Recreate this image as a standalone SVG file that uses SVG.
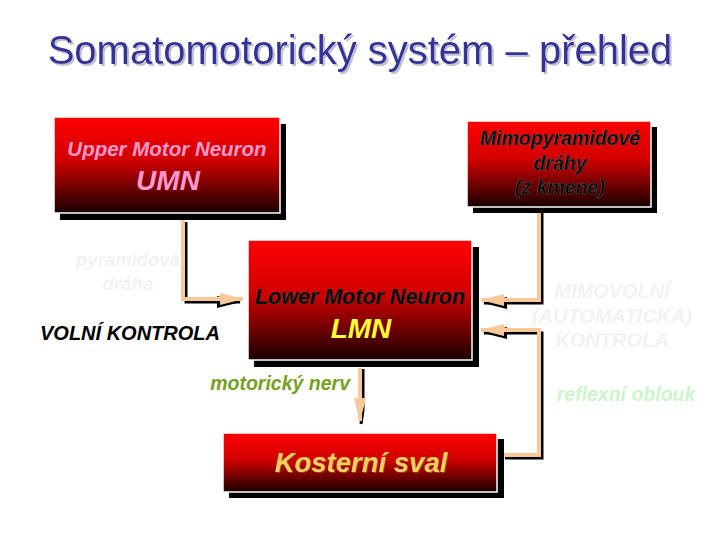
<svg xmlns="http://www.w3.org/2000/svg" width="720" height="540" viewBox="0 0 720 540">
<defs>
<linearGradient id="red" x1="0" y1="0" x2="0" y2="1">
<stop offset="0" stop-color="#ff0000"/>
<stop offset="0.45" stop-color="#d00000"/>
<stop offset="1" stop-color="#180000"/>
</linearGradient>
<filter id="tsh" x="-5%" y="-20%" width="110%" height="150%">
<feDropShadow dx="2" dy="2" stdDeviation="0.6" flood-color="#c0c0d0"/>
</filter>
<marker id="ah" viewBox="0 0 24 12" refX="23" refY="6" markerWidth="6" markerHeight="3" orient="auto" markerUnits="strokeWidth">
<path d="M0,0 L24,6 L0,12 z" fill="#f8c898"/>
</marker>
<marker id="ahb" viewBox="0 0 24 12" refX="23" refY="6" markerWidth="8" markerHeight="4" orient="auto" markerUnits="strokeWidth">
<path d="M0,0 L24,6 L0,12 z" fill="#000"/>
</marker>
</defs>
<style>
.sh{fill:#000}
.bx{fill:url(#red);stroke:#fff;stroke-width:1.5}
text{font-family:"Liberation Sans",Arial,sans-serif;font-style:italic;font-weight:bold}
.blk{stroke:#000;stroke-width:3;fill:none}
.pch{stroke:#f8c898;stroke-width:4;fill:none}
</style>
<rect width="720" height="540" fill="#fff"/>
<g id="title">
<text x="360" y="64" font-size="40" fill="#333399" text-anchor="middle" filter="url(#tsh)" style="font-style:normal;font-weight:normal">Somatomotorický systém – přehled</text>
</g>
<g id="connectors">
<path class="blk" d="M186,222 V302 H240" marker-end="url(#ahb)"/>
<path class="pch" d="M183,220 V299 H243" marker-end="url(#ah)"/>
<path class="blk" d="M542,209 V303 H484" marker-end="url(#ahb)"/>
<path class="pch" d="M539,208 V300 H481" marker-end="url(#ah)"/>
<path class="blk" d="M505,458 H542 V333 H484" marker-end="url(#ahb)"/>
<path class="pch" d="M504,455 H539 V330 H481" marker-end="url(#ah)"/>
<path class="blk" d="M363,369 V410 L361,424"/>
<path class="pch" d="M360,368 V421" marker-end="url(#ah)"/>
</g>
<g id="umn">
<rect class="sh" x="60" y="124" width="226" height="96"/>
<rect class="bx" x="54" y="117" width="226" height="96"/>
<text x="167" y="156" font-size="20.5" fill="#ff99cc" text-anchor="middle">Upper Motor Neuron</text>
<text x="168" y="190" font-size="28" fill="#ff99cc" text-anchor="middle">UMN</text>
</g>
<g id="mimo">
<rect class="sh" x="473" y="127" width="184" height="86"/>
<rect class="bx" x="467" y="121" width="184" height="86"/>
<g fill="#000" stroke="#555" stroke-width="0.6" font-size="19.5" text-anchor="middle">
<text x="560" y="145">Mimopyramidové</text>
<text x="560" y="170">dráhy</text>
<text x="560" y="194">(z kmene)</text>
</g>
</g>
<g id="lmn">
<rect class="sh" x="254" y="247" width="225" height="120"/>
<rect class="bx" x="248" y="240" width="224" height="120"/>
<text x="360" y="304" font-size="21.5" fill="#000" stroke="#444" stroke-width="0.5" text-anchor="middle">Lower Motor Neuron</text>
<text x="361" y="338" font-size="28" fill="#ffff33" text-anchor="middle">LMN</text>
</g>
<g id="sval">
<rect class="sh" x="229" y="439" width="275" height="59"/>
<rect class="bx" x="223" y="433" width="274" height="59"/>
<text x="362" y="473" font-size="27.5" fill="#8a4a00" text-anchor="middle">Kosterní sval</text>
<text x="361" y="472" font-size="27.5" fill="#ffcc66" text-anchor="middle">Kosterní sval</text>
</g>
<g id="labels">
<g fill="#f2f2f2" font-size="18.5" text-anchor="middle" style="font-weight:normal">
<text x="128" y="266">pyramidová</text>
<text x="128" y="290">dráha</text>
</g>
<text x="40" y="340" font-size="20" fill="#000">VOLNÍ KONTROLA</text>
<g fill="#f2f2f2" font-size="20" text-anchor="middle">
<text x="612" y="298">MIMOVOLNÍ</text>
<text x="612" y="323">(AUTOMATICKÁ)</text>
<text x="612" y="347">KONTROLA</text>
</g>
<text x="626" y="401" font-size="19.5" fill="#ccf5cc" text-anchor="middle">reflexní oblouk</text>
<text x="350" y="390" font-size="19.5" fill="#76a020" text-anchor="end">motorický nerv</text>
</g>
</svg>
